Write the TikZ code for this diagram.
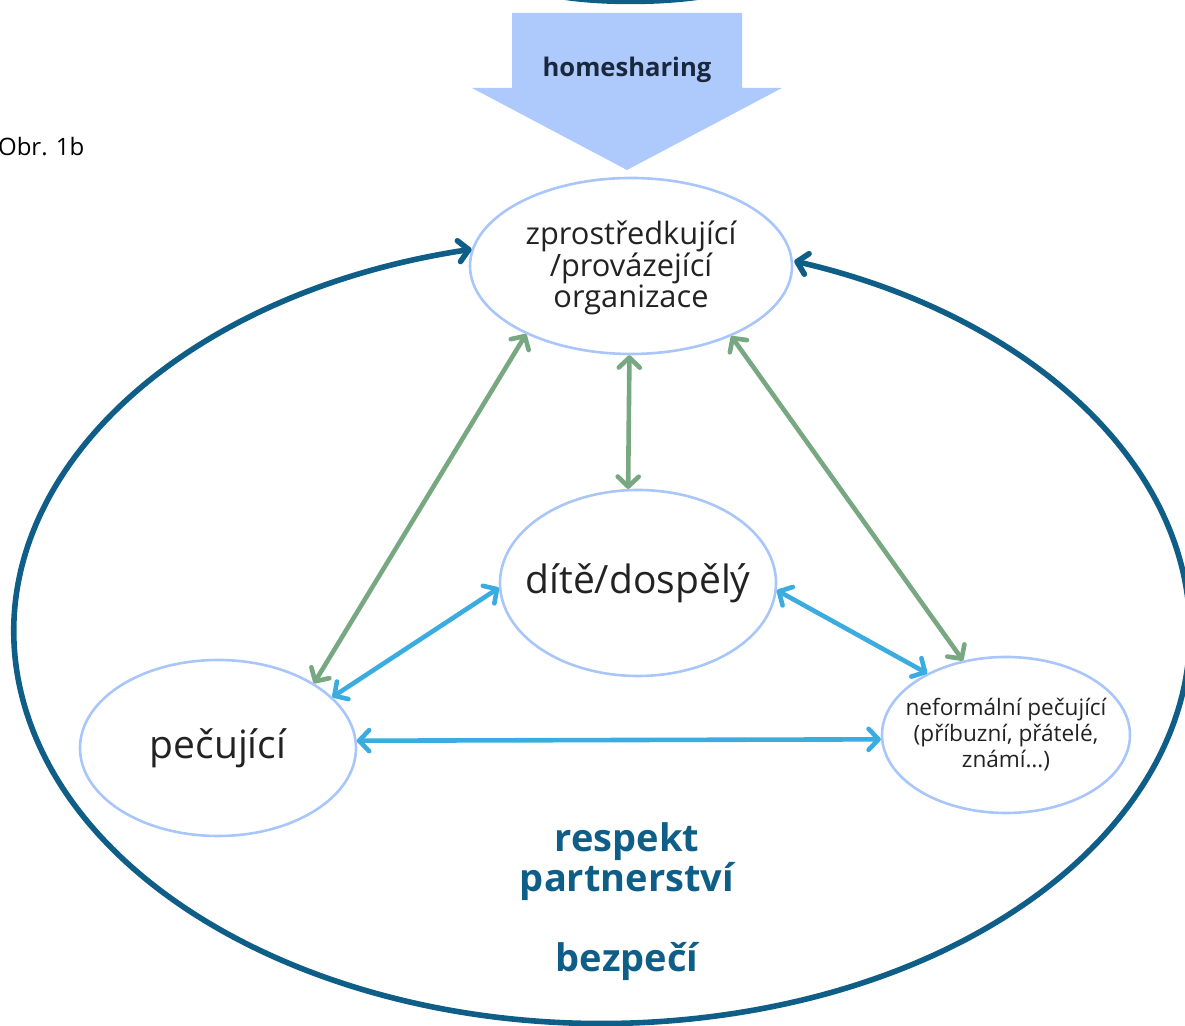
\documentclass[tikz,border=0pt]{standalone}
\usepackage{fontspec}
\setmainfont{Open Sans}
\usepackage{tikz}
\usetikzlibrary{arrows.meta, shapes.geometric}

\definecolor{outerblue}{RGB}{14,94,135}
\definecolor{bubbleblue}{RGB}{168,198,250}
\definecolor{linkgreen}{RGB}{120,168,130}
\definecolor{linkcyan}{RGB}{58,172,224}
\definecolor{flowblue}{RGB}{174,201,251}
\definecolor{inktext}{RGB}{34,34,34}
\definecolor{navytext}{RGB}{25,40,60}

\tikzset{chev/.tip={Straight Barb[length=5pt, width=10.5pt, round]}}

\begin{document}
\begin{tikzpicture}[x=0.5pt, y=0.5pt,
        bubble/.style={ellipse, draw=bubbleblue, line width=1.3pt, inner sep=0pt},
        greenlink/.style={chev-chev, draw=linkgreen, line width=2.3pt},
        cyanlink/.style={chev-chev, draw=linkcyan, line width=2.3pt},
        ring/.style={chev-chev, draw=outerblue, line width=2.8pt},
        word/.style={align=center, text=inktext}]
        \useasboundingbox (0,0) rectangle (1185,1026);

        % Top
        \fill[outerblue] (558,1027) .. controls (600,1020) and (660,1020) .. (705,1027) -- cycle;
        \fill[flowblue] (512,1013) -- (742,1013) -- (742,938) -- (782,938) -- (627,856)
                -- (472,938) -- (512,938) -- cycle;
        \node[font=\bfseries\fontsize{12.8}{15}\selectfont, text=navytext] (share) at (627,956) {homesharing};
        \node[anchor=west, font=\fontsize{12}{14}\selectfont, text=black] (fig) at (-9,879) {Obr. 1b};

        % Nodes
        \node[bubble, minimum width=161pt, minimum height=88pt] (org) at (631,760) {};
        \node[bubble, minimum width=138pt, minimum height=93pt] (child) at (638,443) {};
        \node[bubble, minimum width=138pt, minimum height=88pt] (care) at (218,278) {};
        \node[bubble, minimum width=124pt, minimum height=78pt] (kin) at (1006,291) {};

        \node[word, font=\fontsize{15.4}{15.8}\selectfont] (orgtext) at (631,758) {zprostředkující\\/provázející\\organizace};
        \node[word, font=\fontsize{19.5}{22}\selectfont] (childtext) at (child) {dítě/dospělý};
        \node[word, font=\fontsize{19.5}{22}\selectfont] (caretext) at (care) {pečující};
        \node[word, font=\fontsize{11.3}{13}\selectfont] (kintext) at (kin) {neformální pečující\\(příbuzní, přátelé,\\známí…)};

        \node[align=center, text=outerblue, font=\bfseries\fontsize{19}{18.5}\selectfont] (values) at (627,164) {respekt\\partnerství};
        \node[text=outerblue, font=\bfseries\fontsize{19}{22}\selectfont] (safety) at (627,64) {bezpečí};

        % Edges
        \draw[ring] (org.174) arc[start angle=102.8, end angle=430.9, x radius=588, y radius=392];
        \draw[greenlink] (org.213) -- (care.34);
        \draw[greenlink] (org.269) -- (child.96);
        \draw[greenlink] (org.325) -- (kin.120);
        \draw[cyanlink] (child.182) -- (care.24);
        \draw[cyanlink] (child.357) -- (kin.142);
        \draw[cyanlink] (care.3) -- (kin.182);
\end{tikzpicture}
\end{document}
